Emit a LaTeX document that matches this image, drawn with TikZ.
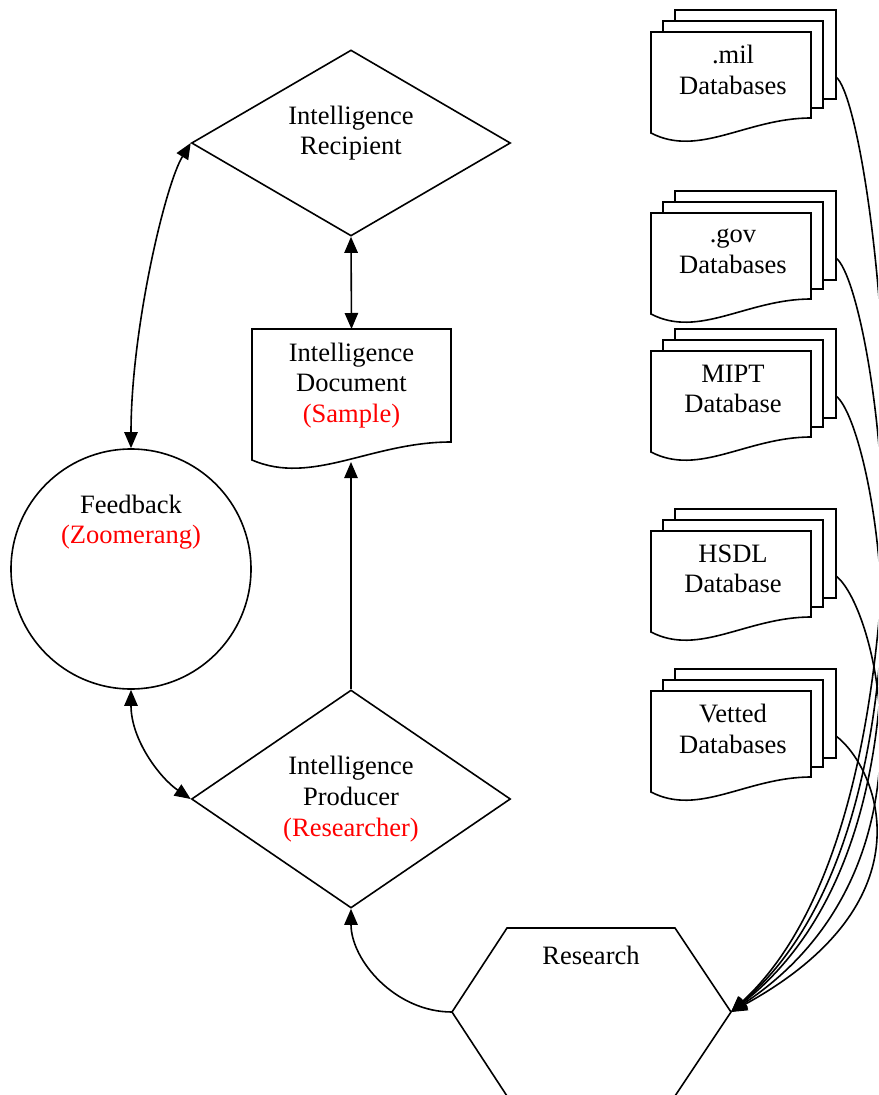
\documentclass[tikz,border=0pt]{standalone}
\usepackage{fontspec}
\setmainfont{Liberation Serif}
\usetikzlibrary{arrows.meta}
\usetikzlibrary{shapes.geometric}
\usetikzlibrary{calc}

% one page with the wavy bottom: x, y (top left), width, height of right side
\newcommand{\docpage}[4]{%
  \filldraw[fill=white] (#1,#2) -- (#1+#3,#2) -- (#1+#3,#2+#4)
    .. controls (#1+0.6*#3,#2+#4) and (#1+0.3*#3,#2+#4+40) .. (#1,#2+#4+15) -- cycle;
}

\tikzset{
  lbl/.style={align=center, inner sep=0pt, font=\fontsize{19.9}{23}\selectfont},
  decision/.style={lbl, diamond, draw, aspect=1.5, minimum width=239.25pt},
  docbox/.style={lbl, rectangle, minimum width=149.25pt, minimum height=84.75pt, outer sep=0pt},
  hexbox/.style={rectangle, inner sep=0pt, outer sep=0pt, minimum width=209.25pt, minimum height=126pt},
  link/.style={-{Triangle[length=12pt,width=10pt]}},
  twoway/.style={{Triangle[length=12pt,width=10pt]}-{Triangle[length=12pt,width=10pt]}},
}

\begin{document}
\begin{tikzpicture}[x=0.75pt, y=-0.75pt, line width=1.2pt]

	\useasboundingbox (0,0) rectangle (878,1095);
	\clip (0,0) rectangle (878,1095);

	% databases
	\foreach \n/\y/\first/\second in {mil/32/.mil/Databases, gov/213/.gov/Databases,
	    mipt/351/MIPT/Database, hsdl/531/HSDL/Database, vetted/691/Vetted/Databases} {
		\filldraw[fill=white] (675,\y-22) rectangle (836,\y+67);
		\filldraw[fill=white] (663,\y-11) rectangle (823,\y+76);
		\docpage{651}{\y}{160}{86}
		\node[lbl] (\n) at (733,\y+38) {\first\\\second};
		\coordinate (\n-out) at (836,\y+45);
	}

	% main flow
	\node[decision, minimum height=139.5pt] (recipient) at (351,143) {};
	\node[lbl] at (351,133) {Intelligence\\Recipient};

	\node[docbox] (document) at (351.5,385.5) {Intelligence\\Document\\\textcolor{red}{(Sample)}};
	\draw (document.north west) -- (document.north east) -- (document.south east)
		.. controls (371,442) and (312,486) .. (252,460) -- cycle;
	\coordinate (docbottom) at (351,462);

	\node[decision, minimum height=163.5pt] (producer) at (351,799)
		{Intelligence\\Producer\\\textcolor{red}{(Researcher)}};

	\node[circle, draw, inner sep=0pt, minimum size=180pt] (feedback) at (131,569) {};
	\node[lbl] at (131,522) {Feedback\\\textcolor{red}{(Zoomerang)}};

	\node[hexbox] (research) at (591.5,1012) {};
	\draw (research.west) -- ($(research.north west)+(55,0)$) -- ($(research.north east)+(-56,0)$)
		-- (research.east) -- ($(research.south east)+(-56,0)$) -- ($(research.south west)+(55,0)$) -- cycle;
	\node[lbl] at (591,955) {Research};

	% connectors
	\draw[twoway] (recipient.south) -- (document.north);
	\draw[link] (producer.north) -- (docbottom);
	\draw[link] (research.west) .. controls (395,1012) and (351,960) .. (producer.south);
	\draw[twoway] (feedback.north) .. controls (131,330) and (165,185) .. (recipient.west);
	\draw[twoway] (feedback.south) .. controls (131,740) and (160,778) .. (producer.west);

	\foreach \n/\cx/\cy in {mil/960/800, gov/955/820, mipt/950/840, hsdl/945/870, vetted/935/900}
		\draw[link] (\n-out) .. controls ($(\n-out)+(40,30)$) and (\cx,\cy) .. (research.east);

\end{tikzpicture}
\end{document}
